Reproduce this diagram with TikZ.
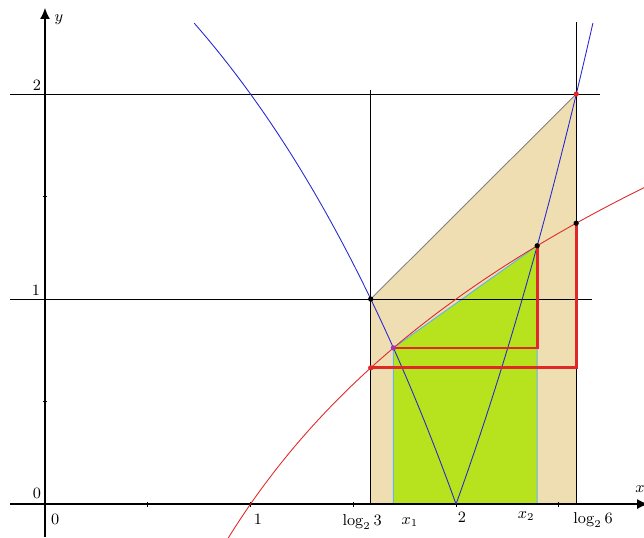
\documentclass[tikz,border=0pt]{standalone}
\usepackage{amsmath}
\usepackage{tikz}
\usetikzlibrary{arrows.meta}
\definecolor{sand}{RGB}{238,222,178}
\definecolor{lime}{RGB}{182,226,30}
\definecolor{sky}{RGB}{100,185,225}
\definecolor{curvered}{RGB}{225,40,40}
\definecolor{curveblue}{RGB}{40,40,210}
\definecolor{dotpurple}{RGB}{170,50,170}

\begin{document}
\begin{tikzpicture}[
  x=4.11cm, y=4.10cm,
  font=\small,
  axis/.style={line width=0.7pt, -{Latex[length=2.2mm, width=2mm]}},
  gridline/.style={line width=0.5pt, black},
  curve/.style={line width=0.5pt},
  redpath/.style={curvered, line width=1.6pt},
  edge/.style={sky, line width=0.6pt},
  lab/.style={inner sep=1pt},
]
  \useasboundingbox (-0.219,-0.161) rectangle (2.915,2.459);

  % key points
  \coordinate (a0) at (1.58496,0);
  \coordinate (a1) at (1.58496,1);
  \coordinate (aL) at (1.58496,0.66444);
  \coordinate (aT) at (1.58496,2.02);
  \coordinate (b0) at (2.58496,0);
  \coordinate (b2) at (2.58496,2);
  \coordinate (bL) at (2.58496,1.37012);
  \coordinate (bM) at (2.58496,0.66444);
  \coordinate (bT) at (2.58496,2.35);
  \coordinate (p0) at (1.6953,0);
  \coordinate (p1) at (1.6953,0.7617);
  \coordinate (q0) at (2.3951,0);
  \coordinate (q1) at (2.3951,1.2601);
  \coordinate (qM) at (2.3951,0.7617);

  % shaded regions
  \fill[sand] (a0) -- (a1) -- (b2) -- (b0) -- cycle;
  \fill[lime] (p0) -- (p1) -- (q1) -- (q0) -- cycle;
  \draw[edge] (p0) -- (p1) -- (q1) -- (q0);
  \draw[curve, black!50] (a1) -- (b2);

  % grid lines
  \draw[gridline] (-0.17,1) -- (2.66,1);
  \draw[gridline] (-0.17,2) -- (2.70,2);
  \draw[gridline] (a0) -- (aT);
  \draw[gridline] (b0) -- (bT);

  % axes and ticks
  \draw[axis] (-0.17,0) -- (2.935,0);
  \draw[axis] (0,-0.161) -- (0,2.42);
  \foreach \t in {0.5,1,1.5,2,2.5}
    \draw[line width=0.5pt] (\t,-0.012) -- (\t,0.012);
  \foreach \t in {0.5,1.5}
    \draw[line width=0.5pt] (-0.012,\t) -- (0.012,\t);

  % curves
  \begin{scope}
    \clip (-0.219,-0.161) rectangle (2.915,2.459);
    \draw[curveblue, curve, domain=0.726:2, samples=60] plot (\x, {4-2^\x});
    \draw[curveblue, curve, domain=2:2.667, samples=40] plot (\x, {2^\x-4});
    \draw[curvered, curve, domain=0.88:2.95, samples=80] plot (\x, {log2(\x)});
  \end{scope}

  % red steps
  \draw[redpath] (aL) -- (bM) -- (bL);
  \draw[redpath] (p1) -- (qM) -- (q1);

  % points
  \fill (a1) circle (1.5pt);
  \fill (q1) circle (1.5pt);
  \fill (bL) circle (1.5pt);
  \fill[curvered] (b2) circle (1.5pt);
  \fill[curvered] (aL) circle (1.5pt);
  \fill[dotpurple] (p1) circle (1.5pt);

  % labels
  \node[lab] (ylab) at (0.068,2.361) {$y$};
  \node[lab] (xlab) at (2.895,0.073) {$x$};
  \node[lab] (y0) at (-0.039,0.054) {0};
  \node[lab] (y1) at (-0.044,1.044) {1};
  \node[lab] (y2) at (-0.039,2.044) {2};
  \node[lab] (x0) at (0.049,-0.073) {0};
  \node[lab] (x1) at (1.036,-0.073) {1};
  \node[lab] (x2) at (2.029,-0.063) {2};
  \node[lab] (lg3) at (1.543,-0.088) {$\log_2 3$};
  \node[lab] (xa) at (1.776,-0.088) {$x_1$};
  \node[lab] (xb) at (2.341,-0.059) {$x_2$};
  \node[lab] (lg6) at (2.667,-0.078) {$\log_2 6$};
\end{tikzpicture}
\end{document}
